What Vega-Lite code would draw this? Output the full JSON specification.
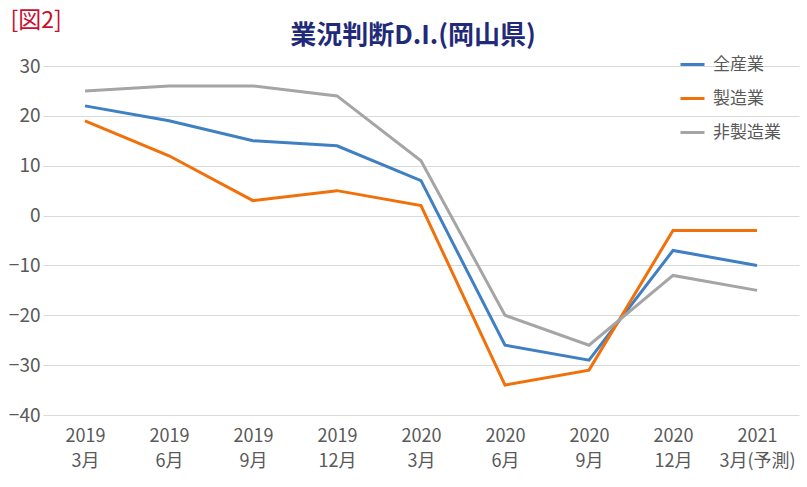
{
  "$schema": "https://vega.github.io/schema/vega-lite/v6.json",
  "autosize": {"type": "none"},
  "width": 756,
  "height": 349,
  "padding": {"left": 43, "top": 66, "right": 8, "bottom": 72},
  "background": "white",
  "config": {
    "font": "Noto Sans CJK JP",
    "view": {"stroke": null}
  },
  "title": {
    "text": "業況判断D.I.(岡山県)",
    "anchor": "middle",
    "frame": "group",
    "offset": -40,
    "dx": -8,
    "fontSize": 26,
    "fontWeight": "bold",
    "color": "#1f2a78",
    "font": "Noto Sans CJK JP"
  },
  "data": {
    "values": [
      {"period": "2019|3月", "series": "全産業", "value": 22},
      {"period": "2019|6月", "series": "全産業", "value": 19},
      {"period": "2019|9月", "series": "全産業", "value": 15},
      {"period": "2019|12月", "series": "全産業", "value": 14},
      {"period": "2020|3月", "series": "全産業", "value": 7},
      {"period": "2020|6月", "series": "全産業", "value": -26},
      {"period": "2020|9月", "series": "全産業", "value": -29},
      {"period": "2020|12月", "series": "全産業", "value": -7},
      {"period": "2021|3月(予測)", "series": "全産業", "value": -10},
      {"period": "2019|3月", "series": "製造業", "value": 19},
      {"period": "2019|6月", "series": "製造業", "value": 12},
      {"period": "2019|9月", "series": "製造業", "value": 3},
      {"period": "2019|12月", "series": "製造業", "value": 5},
      {"period": "2020|3月", "series": "製造業", "value": 2},
      {"period": "2020|6月", "series": "製造業", "value": -34},
      {"period": "2020|9月", "series": "製造業", "value": -31},
      {"period": "2020|12月", "series": "製造業", "value": -3},
      {"period": "2021|3月(予測)", "series": "製造業", "value": -3},
      {"period": "2019|3月", "series": "非製造業", "value": 25},
      {"period": "2019|6月", "series": "非製造業", "value": 26},
      {"period": "2019|9月", "series": "非製造業", "value": 26},
      {"period": "2019|12月", "series": "非製造業", "value": 24},
      {"period": "2020|3月", "series": "非製造業", "value": 11},
      {"period": "2020|6月", "series": "非製造業", "value": -20},
      {"period": "2020|9月", "series": "非製造業", "value": -26},
      {"period": "2020|12月", "series": "非製造業", "value": -12},
      {"period": "2021|3月(予測)", "series": "非製造業", "value": -15}
    ]
  },
  "mark": {"type": "line", "strokeWidth": 3},
  "encoding": {
    "x": {
      "field": "period",
      "type": "ordinal",
      "sort": null,
      "scale": {"type": "point", "padding": 0.5},
      "axis": {
        "title": null,
        "labelAngle": 0,
        "labelExpr": "split(datum.value, '|')",
        "labelFontSize": 18,
        "labelLineHeight": 25,
        "labelColor": "#595959",
        "labelPadding": 12,
        "domain": false,
        "ticks": false,
        "grid": false
      }
    },
    "y": {
      "field": "value",
      "type": "quantitative",
      "scale": {"domain": [-40, 30], "nice": false},
      "axis": {
        "values": [-40, -30, -20, -10, 0, 10, 20, 30],
        "labelFontSize": 19,
        "labelColor": "#595959",
        "labelPadding": 3,
        "domain": false,
        "ticks": false,
        "gridColor": "#d9d9d9",
        "gridWidth": 1,
        "title": "[図2]",
        "titleAngle": 0,
        "titleAlign": "left",
        "titleBaseline": "middle",
        "titleX": -33,
        "titleY": -46,
        "titleFontSize": 23,
        "titleFontWeight": "normal",
        "titleColor": "#c8102e"
      }
    },
    "color": {
      "field": "series",
      "type": "nominal",
      "scale": {"domain": ["全産業", "製造業", "非製造業"], "range": ["#3f7fc4", "#f0700a", "#a5a5a5"]},
      "legend": {
        "title": null,
        "orient": "none",
        "legendX": 636,
        "legendY": -15,
        "symbolType": "stroke",
        "symbolSize": 576,
        "symbolStrokeWidth": 3,
        "labelFontSize": 17,
        "labelColor": "#595959",
        "labelOffset": 7,
        "rowPadding": 12
      }
    }
  }
}
